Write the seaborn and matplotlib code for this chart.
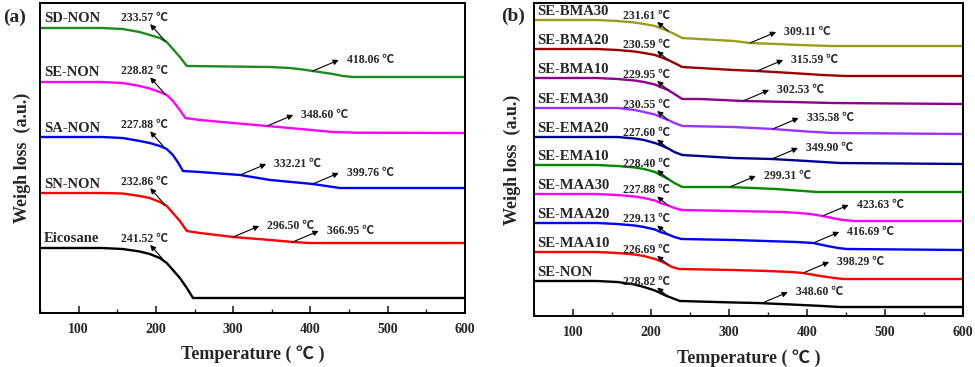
import numpy as np
import pandas as pd
import matplotlib
matplotlib.use("Agg")
import matplotlib.pyplot as plt
import seaborn as sns
from matplotlib.ticker import MultipleLocator

# ---------------- data: panel (a) ----------------
a_names = ["SD-NON", "SE-NON", "SA-NON", "SN-NON", "Eicosane"]
sd_non_T = [50, 130, 157, 179, 192, 205, 214, 222, 231, 240, 348, 373, 390, 403, 416, 429, 442, 455, 600]
sd_non_w = [285, 285, 284, 281, 278, 275, 271, 264, 256, 247, 246, 245, 243.5, 242, 240.5, 239, 237, 236, 236]
se_non_a_T = [50, 130, 157, 179, 192, 205, 214, 222, 231, 238, 257, 300, 344, 387, 429, 460, 600]
se_non_a_w = [231, 231, 230, 227, 224.5, 221, 218, 212, 203, 195, 193, 190, 187, 184, 181, 180.3, 180]
sa_non_T = [50, 130, 157, 179, 192, 205, 214, 222, 229, 235, 257, 309, 348, 403, 438, 600]
sa_non_w = [176, 176, 175, 172, 170, 167, 164, 158, 150, 142, 141, 138, 133, 129, 125, 125]
sn_non_T = [50, 130, 157, 179, 192, 205, 214, 222, 231, 240, 257, 300, 348, 377, 399, 600]
sn_non_w = [120, 120, 119.5, 117, 115, 111, 107, 100, 92, 82, 80, 76, 73, 71, 70, 70]
eicosane_T = [50, 130, 157, 179, 192, 205, 214, 222, 231, 240, 248, 600]
eicosane_w = [65, 65, 64, 61.5, 59, 55, 50, 43, 35, 25, 15, 15]
a_onset = ["233.57", "228.82", "227.88", "232.86", "241.52"]
a_second = [["418.06"], ["348.60"], ["332.21", "399.76"], ["296.50", "366.95"], []]

# ---------------- data: panel (b) ----------------
b_names = ["SE-BMA30", "SE-BMA20", "SE-BMA10", "SE-EMA30", "SE-EMA20",
           "SE-EMA10", "SE-MAA30", "SE-MAA20", "SE-MAA10", "SE-NON"]
bma30_T = [50, 130, 157, 179, 191, 205, 212, 222, 230, 240, 306, 327, 360, 391, 430, 600]
bma30_w = [296, 296, 295, 293.5, 292, 290, 288, 285, 282, 278, 275, 273, 272, 271, 270, 270]
bma20_T = [50, 130, 157, 179, 191, 205, 212, 222, 230, 240, 306, 336, 380, 420, 450, 600]
bma20_w = [267, 267, 266, 264.5, 263, 261, 259, 256, 253, 249, 246, 245, 243, 241, 240, 240]
bma10_T = [50, 130, 157, 179, 191, 205, 212, 222, 230, 240, 263, 318, 380, 433, 600]
bma10_w = [238, 238, 237, 235.5, 234, 231.5, 229, 226, 222, 217, 217, 215, 214, 213, 212]
ema30_T = [50, 130, 157, 179, 191, 205, 212, 222, 230, 240, 306, 356, 400, 433, 600]
ema30_w = [208, 208, 208, 206, 204, 201.5, 199, 196, 193, 190, 189, 187, 184.5, 183, 182]
ema20_T = [50, 130, 157, 179, 191, 205, 212, 222, 230, 240, 306, 355, 400, 442, 600]
ema20_w = [179, 179, 179, 177.5, 176, 173, 171, 167.5, 164, 161, 158, 157, 155, 153, 152]
ema10_T = [50, 130, 157, 179, 191, 205, 212, 222, 230, 240, 301, 360, 413, 600]
ema10_w = [151, 151, 150, 148.5, 147, 144, 141, 137, 133, 129, 129, 127, 124, 124]
maa30_T = [50, 130, 157, 179, 191, 205, 212, 222, 230, 239, 306, 369, 390, 404, 420, 435, 446, 460, 600]
maa30_w = [122, 122, 121, 119.5, 118, 115.5, 113, 110.5, 108, 106, 105, 104, 103, 102, 100, 97.5, 96, 95, 95]
maa20_T = [50, 130, 157, 179, 191, 205, 212, 222, 230, 239, 306, 387, 408, 426, 440, 451, 600]
maa20_w = [93, 93, 92, 90.5, 89, 86.5, 84, 81.5, 79, 77, 76, 74, 73, 70, 68, 67, 66]
maa10_T = [50, 130, 157, 179, 191, 205, 212, 220, 227, 236, 306, 349, 380, 395, 417, 435, 446, 600]
maa10_w = [64, 64, 63, 61.5, 60, 57, 55, 52, 49, 47, 46, 45, 44, 43, 40, 38, 37, 37]
se_non_b_T = [50, 130, 157, 179, 191, 205, 212, 220, 227, 237, 306, 336, 380, 420, 442, 600]
se_non_b_w = [35, 35, 34, 31.5, 29, 25.5, 23, 20, 18, 15, 13.5, 13, 11.5, 10, 9, 9]
b_onset = ["231.61", "230.59", "229.95", "230.55", "227.60",
           "228.40", "227.88", "229.13", "226.69", "228.82"]
b_second = [["309.11"], ["315.59"], ["302.53"], ["335.58"], ["349.90"],
            ["299.31"], ["423.63"], ["416.69"], ["398.29"], ["348.60"]]

x_ticks = [100, 200, 300, 400, 500, 600]

# ---------------- styles / layout ----------------
a_colors = ["#1f8a1f", "#ff00ff", "#0000ff", "#ff0000", "#000000"]
b_colors = ["#9c9c1c", "#990000", "#8e008e", "#9933ff", "#000090",
            "#008a00", "#ff00ff", "#0000ff", "#ff0000", "#000000"]
a_second_at = [[403], [344], [309, 403], [300, 377], []]
b_second_at = [[327], [336], [318], [356], [355], [301], [420], [408], [395], [342]]

sns.set_style("ticks")
SERIF = ["Liberation Serif", "Noto Sans CJK SC", "DejaVu Sans"]
plt.rcParams["font.family"] = SERIF
plt.rcParams["font.weight"] = "bold"

fig = plt.figure(figsize=(9.75, 3.67), dpi=100)
ax_a = fig.add_axes([40 / 975, 1 - 313 / 367, 425 / 975, 310 / 367])
ax_b = fig.add_axes([534 / 975, 1 - 316 / 367, 429 / 975, 313 / 367])

arrow_kw = dict(arrowstyle="<|-", color="black", lw=0.8, mutation_scale=8,
                shrinkA=0, shrinkB=0)


def draw_panel(ax, names, temps, weights, colors, onset, second, second_at,
               step_at, name_off, step_head, step_text, ylim, ylab_x, xlab_y):
    for name, T, w, c, on, sec, sec_at in zip(names, temps, weights, colors,
                                               onset, second, second_at):
        df = pd.DataFrame({"T": T, "w": w})
        sns.lineplot(data=df, x="T", y="w", color=c, lw=1.7, ax=ax,
                     estimator=None, sort=False)
        ax.annotate(name, xy=(T[0], w[0]), xytext=name_off,
                    textcoords="offset pixels", ha="left", va="center",
                    fontsize=10.5, fontweight="bold")
        y0 = float(np.interp(step_at, T, w))
        ax.annotate("", xy=(step_at, y0), xytext=step_head,
                    textcoords="offset pixels", arrowprops=arrow_kw)
        ax.annotate(on + " \u2103", xy=(step_at, y0), xytext=step_text,
                    textcoords="offset pixels", ha="left", va="center",
                    fontsize=8.5, fontweight="bold")
        for lab, t in zip(sec, sec_at):
            y1 = float(np.interp(t, T, w))
            ax.annotate("", xy=(t, y1), xytext=(26, 11),
                        textcoords="offset pixels", arrowprops=arrow_kw)
            ax.annotate(lab + " \u2103", xy=(t, y1), xytext=(34, 11),
                        textcoords="offset pixels", ha="left", va="center",
                        fontsize=8.5, fontweight="bold")
    ax.set_xlim(50, 600)
    ax.set_ylim(*ylim)
    ax.set_yticks([])
    ax.set_xticks(x_ticks)
    ax.set_xticklabels([str(t) for t in x_ticks], fontsize=10, fontweight="bold")
    ax.xaxis.set_minor_locator(MultipleLocator(50))
    ax.tick_params(axis="x", which="major", direction="in", length=5, width=1.2, pad=7)
    ax.tick_params(axis="x", which="minor", direction="in", length=3, width=1.0)
    for s in ax.spines.values():
        s.set_linewidth(1.4)
        s.set_color("black")
    ax.set_xlabel("Temperature ( \u2103 )", fontsize=13, fontweight="bold")
    ax.set_ylabel("Weigh loss  (a.u.)", fontsize=13, fontweight="bold")
    ax.xaxis.set_label_coords(0.5, xlab_y)
    ax.yaxis.set_label_coords(ylab_x, 0.5)


draw_panel(ax_a, a_names,
           [sd_non_T, se_non_a_T, sa_non_T, sn_non_T, eicosane_T],
           [sd_non_w, se_non_a_w, sa_non_w, sn_non_w, eicosane_w],
           a_colors, a_onset, a_second, a_second_at,
           212, (4, 9), (-15, 17), (-44, 23), (0, 310), -0.022, -0.103)

draw_panel(ax_b, b_names,
           [bma30_T, bma20_T, bma10_T, ema30_T, ema20_T,
            ema10_T, maa30_T, maa20_T, maa10_T, se_non_b_T],
           [bma30_w, bma20_w, bma10_w, ema30_w, ema20_w,
            ema10_w, maa30_w, maa20_w, maa10_w, se_non_b_w],
           b_colors, b_onset, b_second, b_second_at,
           222, (3, 8), (-11, 9), (-45, 15), (0, 313), -0.030, -0.105)

fig.text(3 / 975, 1 - 17 / 367, "(a)", fontsize=14, fontweight="bold",
         ha="left", va="center")
fig.text(501 / 975, 1 - 16 / 367, "(b)", fontsize=14, fontweight="bold",
         ha="left", va="center")

fig.savefig("out.png", dpi=100)
